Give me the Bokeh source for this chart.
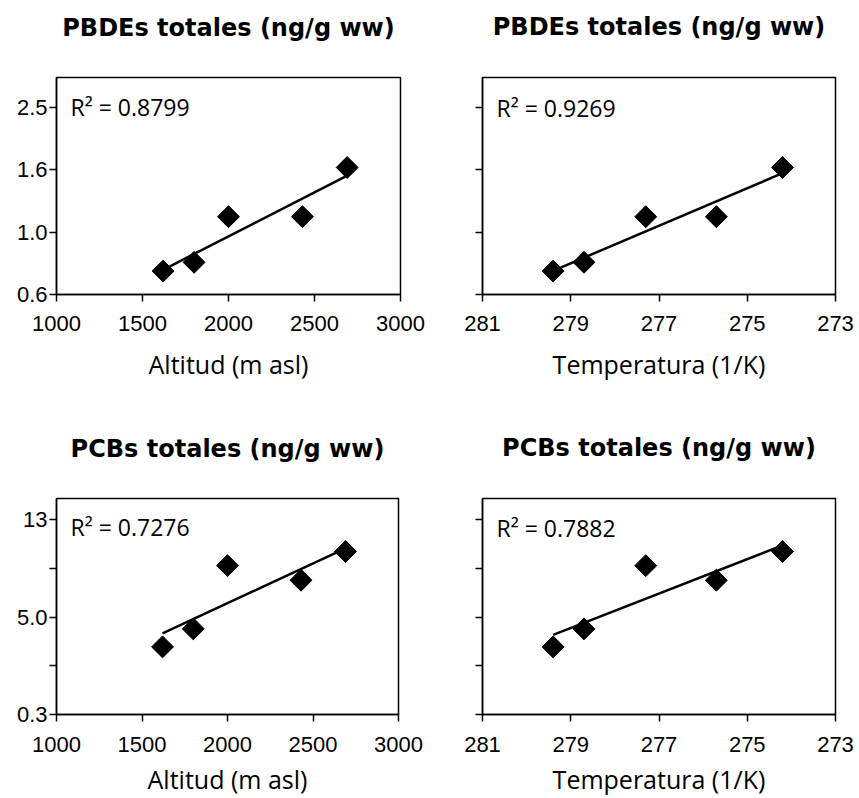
import numpy as np
from bokeh.plotting import figure
from bokeh.layouts import column, row
from bokeh.models import FixedTicker, CustomJSTickFormatter, Label, Range1d, Title
from bokeh.embed import file_html
from bokeh.resources import INLINE

# ---------------- data ----------------
altitude = [1620, 1800, 2000, 2430, 2690]            # m asl
temperature = [279.4, 278.7, 277.3, 275.7, 274.2]    # K
pbde_total = [0.75, 0.80, 1.12, 1.12, 1.61]          # ng/g ww (log axis)
pcb_axis_pos = [1.39, 1.76, 3.06, 2.76, 3.35]        # position on the PCB axis (tick-index units)

alt_ticks = [1000, 1500, 2000, 2500, 3000]
temp_ticks = [281, 279, 277, 275, 273]
pbde_ticks = [10 ** -0.2, 1.0, 10 ** 0.2, 10 ** 0.4]
pbde_tick_labels = ["0.6", "1.0", "1.6", "2.5"]
pcb_ticks = [0, 1, 2, 3, 4]
pcb_tick_labels = ["0.3", "", "5.0", "", "13"]

titles = ["PBDEs totales (ng/g ww)", "PBDEs totales (ng/g ww)",
          "PCBs totales (ng/g ww)", "PCBs totales (ng/g ww)"]
xlabels = ["Altitud (m asl)", "Temperatura (1/K)", "Altitud (m asl)", "Temperatura (1/K)"]
r2_texts = ["R\u00b2 = 0.8799", "R\u00b2 = 0.9269", "R\u00b2 = 0.7276", "R\u00b2 = 0.7882"]

TICK_FONT = "Liberation Sans"
LABEL_FONT = "Open Sans"


def panel(x, y, xr, xticks, yr, yticks, ylabels, ylog, show_ylab, title, xlabel, r2,
          fw, fh, bl, br, bt, bb, lab_std, gap):
    p = figure(width=bl + fw + br, height=bt + fh + bb,
               x_range=Range1d(*xr), y_range=Range1d(*yr),
               y_axis_type="log" if ylog else "linear",
               output_backend="svg", toolbar_location=None, title=None,
               min_border_left=bl, min_border_right=br,
               min_border_top=bt, min_border_bottom=bb,
               background_fill_color="white", border_fill_color="white")

    p.grid.visible = False
    p.outline_line_color = "black"
    p.outline_line_width = 1.5
    p.outline_line_alpha = 1.0

    for ax in (p.xaxis[0], p.yaxis[0]):
        ax.axis_line_color = "black"
        ax.axis_line_width = 1.5
        ax.major_tick_line_color = "black"
        ax.major_tick_line_width = 1.5
        ax.major_tick_in = 0
        ax.major_tick_out = 7
        ax.minor_tick_line_color = None
        ax.major_label_text_font = TICK_FONT
        ax.major_label_text_font_size = "22px"
        ax.major_label_text_color = "black"

    p.xaxis.ticker = FixedTicker(ticks=xticks, minor_ticks=[])
    p.xaxis.major_label_standoff = lab_std[0]
    p.xaxis.axis_label = xlabel
    p.xaxis.axis_label_text_font = LABEL_FONT
    p.xaxis.axis_label_text_font_style = "normal"
    p.xaxis.axis_label_text_font_size = "25px"
    p.xaxis.axis_label_text_color = "black"
    p.xaxis.axis_label_standoff = lab_std[1]

    p.yaxis.ticker = FixedTicker(ticks=yticks, minor_ticks=[])
    p.yaxis.major_label_standoff = 2
    if show_ylab:
        p.yaxis.formatter = CustomJSTickFormatter(args=dict(labels=ylabels),
                                                  code="return labels[index] ?? '';")
    else:
        p.yaxis.formatter = CustomJSTickFormatter(code="return '';")

    # least-squares trend line in plotted space
    xa = np.array(x, dtype=float)
    ya = np.log10(np.array(y, dtype=float)) if ylog else np.array(y, dtype=float)
    a, b = np.polyfit(xa, ya, 1)
    lx = np.array([xa.min(), xa.max()])
    ly = a * lx + b
    if ylog:
        ly = 10 ** ly
    p.line(lx, ly, line_color="black", line_width=2.5)

    p.scatter(x, y, marker="square", size=15.5, angle=np.pi / 4,
              fill_color="black", line_color="black")

    p.add_layout(Label(x=14, y=fh - 31, x_units="screen", y_units="screen",
                       text=r2, text_font=LABEL_FONT, text_font_size="23px",
                       text_color="black", text_baseline="middle", text_align="left"))

    # spacer between frame and title, then the panel title (stacked outward)
    p.add_layout(Title(text=" ", text_font_size="2px", standoff=gap), "above")
    p.add_layout(Title(text=title, align="center", standoff=0,
                       text_font="DejaVu Sans", text_font_style="bold",
                       text_font_size="24px", text_color="black"), "above")
    return p


pbde_range = (10 ** -0.2, 10 ** 0.495)
pcb_range = (0, 4.44)

p1 = panel(altitude, pbde_total, (1000, 3000), alt_ticks, pbde_range, pbde_ticks, pbde_tick_labels,
           True, True, titles[0], xlabels[0], r2_texts[0],
           344, 219, 56, 26, 77, 104, (14, 13), 32)
p2 = panel(temperature, pbde_total, (281, 273), temp_ticks, pbde_range, pbde_ticks, pbde_tick_labels,
           True, False, titles[1], xlabels[1], r2_texts[1],
           353, 218, 56, 20, 76, 106, (14, 13), 33)
p3 = panel(altitude, pcb_axis_pos, (1000, 3000), alt_ticks, pcb_range, pcb_ticks, pcb_tick_labels,
           False, True, titles[2], xlabels[2], r2_texts[2],
           342, 219, 56, 28, 97, 82, (15, 7), 32)
p4 = panel(temperature, pcb_axis_pos, (281, 273), temp_ticks, pcb_range, pcb_ticks, pcb_tick_labels,
           False, False, titles[3], xlabels[3], r2_texts[3],
           353, 218, 56, 20, 98, 82, (15, 7), 33)

layout = column(row(p1, p2), row(p3, p4))
open("out.html", "w").write(file_html(layout, INLINE))
